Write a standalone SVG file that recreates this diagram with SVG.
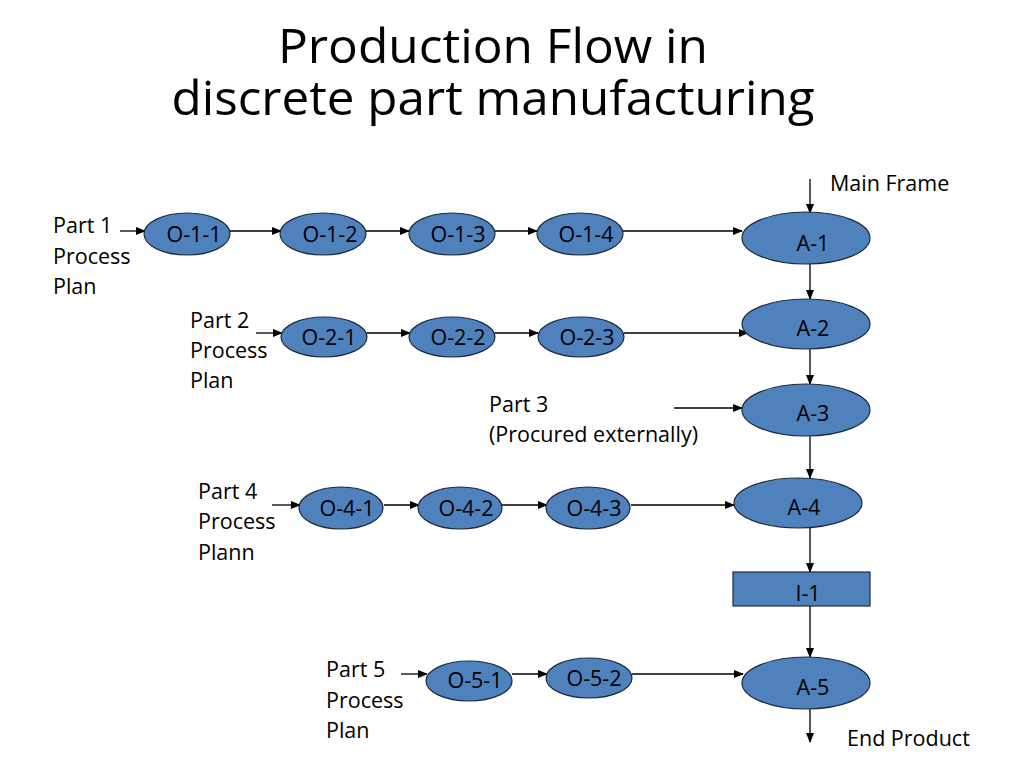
<svg xmlns="http://www.w3.org/2000/svg" width="1024" height="768" viewBox="0 0 1024 768">
<style>
.title{font-family:"Open Sans","Liberation Sans",Arial,sans-serif;font-size:47px;fill:#000}
.lbl{font-family:"Open Sans","Liberation Sans",Arial,sans-serif;font-size:21.5px;fill:#000}
.nt{font-family:"Open Sans","Liberation Sans",Arial,sans-serif;font-size:21.5px;fill:#000;text-anchor:middle}
.node{fill:#4F81BD;stroke:#1d2b3d;stroke-width:1.2}
.conn line{stroke:#000;stroke-width:1.3;marker-end:url(#ah)}
</style>
<defs>
<marker id="ah" markerUnits="userSpaceOnUse" markerWidth="10" markerHeight="8" refX="9" refY="4" orient="auto">
<path d="M0,0 L10,4 L0,8 z" fill="#000"/>
</marker>
</defs>
<rect width="1024" height="768" fill="#fff"/>
<text class="title" x="493" y="63" text-anchor="middle" textLength="430" lengthAdjust="spacingAndGlyphs">Production Flow in</text>
<text class="title" x="493" y="115" text-anchor="middle" textLength="643" lengthAdjust="spacingAndGlyphs">discrete part manufacturing</text>

<g id="labels">
<text class="lbl" x="53" y="233">Part 1</text>
<text class="lbl" x="53" y="264">Process</text>
<text class="lbl" x="53" y="294">Plan</text>
<text class="lbl" x="190" y="328">Part 2</text>
<text class="lbl" x="190" y="358">Process</text>
<text class="lbl" x="190" y="388">Plan</text>
<text class="lbl" x="489" y="412">Part 3</text>
<text class="lbl" x="489" y="442">(Procured externally)</text>
<text class="lbl" x="198" y="499">Part 4</text>
<text class="lbl" x="198" y="529">Process</text>
<text class="lbl" x="198" y="560">Plann</text>
<text class="lbl" x="326" y="677">Part 5</text>
<text class="lbl" x="326" y="708">Process</text>
<text class="lbl" x="326" y="738">Plan</text>
<text class="lbl" x="830" y="191">Main Frame</text>
<text class="lbl" x="847" y="746">End Product</text>
</g>

<g id="connectors" class="conn">
<line x1="120" y1="231" x2="145" y2="231"/>
<line x1="230" y1="231" x2="281" y2="231"/>
<line x1="366" y1="231" x2="409" y2="231"/>
<line x1="495" y1="231" x2="537" y2="231"/>
<line x1="623" y1="231" x2="742" y2="231"/>
<line x1="256" y1="333" x2="282" y2="333"/>
<line x1="367" y1="333" x2="410" y2="333"/>
<line x1="495" y1="333" x2="538" y2="333"/>
<line x1="624" y1="333" x2="748" y2="333"/>
<line x1="674" y1="408" x2="742" y2="408"/>
<line x1="272" y1="505" x2="300" y2="505"/>
<line x1="384" y1="505" x2="419" y2="505"/>
<line x1="502" y1="505" x2="547" y2="505"/>
<line x1="631" y1="505" x2="734" y2="505"/>
<line x1="401" y1="674" x2="427" y2="674"/>
<line x1="512" y1="674" x2="547" y2="674"/>
<line x1="632" y1="674" x2="743" y2="674"/>
<line x1="810" y1="179" x2="810" y2="213"/>
<line x1="810" y1="264" x2="810" y2="299"/>
<line x1="810" y1="349" x2="810" y2="384"/>
<line x1="810" y1="436" x2="810" y2="478"/>
<line x1="810" y1="528" x2="810" y2="572"/>
<line x1="810" y1="606" x2="810" y2="657"/>
<line x1="810" y1="709" x2="810" y2="742"/>
</g>

<g id="O-1-1"><ellipse class="node" cx="187" cy="234" rx="43" ry="21"/><text class="nt" x="194" y="242">O-1-1</text></g>
<g id="O-1-2"><ellipse class="node" cx="323" cy="234" rx="43" ry="21"/><text class="nt" x="330" y="242">O-1-2</text></g>
<g id="O-1-3"><ellipse class="node" cx="452" cy="234" rx="43" ry="21"/><text class="nt" x="458" y="242">O-1-3</text></g>
<g id="O-1-4"><ellipse class="node" cx="580" cy="234" rx="43" ry="21"/><text class="nt" x="586" y="242">O-1-4</text></g>

<g id="O-2-1"><ellipse class="node" cx="324" cy="337" rx="43" ry="20"/><text class="nt" x="329" y="345">O-2-1</text></g>
<g id="O-2-2"><ellipse class="node" cx="452" cy="337" rx="43" ry="20"/><text class="nt" x="458" y="345">O-2-2</text></g>
<g id="O-2-3"><ellipse class="node" cx="581" cy="337" rx="43" ry="20"/><text class="nt" x="587" y="345">O-2-3</text></g>

<g id="O-4-1"><ellipse class="node" cx="341" cy="508" rx="42" ry="21"/><text class="nt" x="347" y="516">O-4-1</text></g>
<g id="O-4-2"><ellipse class="node" cx="460" cy="508" rx="42" ry="21"/><text class="nt" x="466" y="516">O-4-2</text></g>
<g id="O-4-3"><ellipse class="node" cx="588" cy="508" rx="42" ry="21"/><text class="nt" x="594" y="516">O-4-3</text></g>

<g id="O-5-1"><ellipse class="node" cx="469" cy="681" rx="43" ry="20"/><text class="nt" x="475" y="688">O-5-1</text></g>
<g id="O-5-2"><ellipse class="node" cx="589" cy="678" rx="43" ry="20"/><text class="nt" x="594" y="686">O-5-2</text></g>

<g id="A-1"><ellipse class="node" cx="806" cy="238" rx="64" ry="26"/><text class="nt" x="813" y="251">A-1</text></g>
<g id="A-2"><ellipse class="node" cx="806" cy="324" rx="64" ry="25"/><text class="nt" x="813" y="336">A-2</text></g>
<g id="A-3"><ellipse class="node" cx="806" cy="410" rx="64" ry="26"/><text class="nt" x="813" y="421">A-3</text></g>
<g id="A-4"><ellipse class="node" cx="798" cy="503" rx="64" ry="25"/><text class="nt" x="804" y="515">A-4</text></g>
<g id="I-1"><rect class="node" x="733" y="572" width="137" height="34"/><text class="nt" x="808" y="601">I-1</text></g>
<g id="A-5"><ellipse class="node" cx="806" cy="683" rx="64" ry="26"/><text class="nt" x="813" y="695">A-5</text></g>
</svg>
